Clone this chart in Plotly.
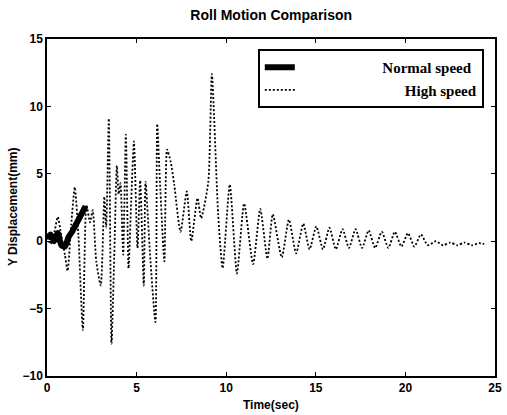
import plotly.graph_objects as go

# ---- data ----
normal_t = [0.0, 0.2, 0.4, 0.6, 0.8, 1.0, 1.2, 1.4, 1.6, 1.8, 2.0, 2.15]
normal_y = [0.2, 0.5, 0.0, 0.6, -0.3, -0.4, 0.3, 0.7, 1.2, 1.7, 2.2, 2.6]

high_t = [0.00, 0.20, 0.40, 0.60, 0.80, 1.00, 1.15, 1.35, 1.55, 1.75, 2.00, 2.20,
          2.40, 2.55, 2.75, 3.00, 3.20, 3.30, 3.45, 3.60, 3.75, 3.90, 4.00, 4.10,
          4.25, 4.40, 4.55, 4.70, 4.85, 5.05, 5.20, 5.40, 5.50, 5.75, 6.05, 6.15,
          6.30, 6.55, 6.70, 6.90, 7.10, 7.45, 7.80, 8.05, 8.40, 8.60, 9.00, 9.20,
          9.55, 9.80, 10.20, 10.60, 11.00, 11.50, 11.90, 12.30, 12.60, 13.10, 13.50, 13.90,
          14.30, 14.65, 15.03, 15.40, 15.76, 16.12, 16.49, 16.85, 17.22, 17.58, 17.95, 18.31,
          18.68, 19.05, 19.41, 19.78, 20.14, 20.50, 20.87, 21.25, 21.70, 22.10, 22.50, 22.90,
          23.30, 23.70, 24.10, 24.40]
high_y = [0.3, -0.2, 0.6, 1.8, 0.4, -1.0, -2.2, 1.2, 4.0, 0.5, -6.6, 2.7,
          1.4, 2.3, -1.5, -3.3, 3.3, 1.0, 9.1, -7.6, -1.2, 5.6, 3.5, 4.3,
          -1.0, 7.9, -2.0, 3.0, 7.4, -0.5, 4.5, -3.3, 4.4, -1.0, -6.0, 8.7,
          4.5, -1.5, 6.8, 5.9, 4.2, 0.7, 3.7, 0.0, 3.2, 1.7, 4.4, 12.4,
          2.0, -2.0, 4.2, -2.4, 2.8, -1.7, 2.4, -1.3, 2.0, -1.2, 1.6, -0.9,
          1.3, -0.6, 1.1, -0.6, 1.0, -0.6, 0.9, -0.5, 0.9, -0.5, 0.8, -0.5,
          0.7, -0.5, 0.7, -0.4, 0.6, -0.4, 0.5, -0.3, 0.0, -0.3, -0.1, -0.3,
          -0.1, -0.3, -0.15, -0.2]

x_ticks = [0, 5, 10, 15, 20, 25]
y_ticks = [-10, -5, 0, 5, 10, 15]

fig = go.Figure()
fig.add_trace(go.Scatter(
    x=high_t, y=high_y, mode="lines", name="\u00a0" * 28 + "High speed",
    line=dict(color="black", width=1.8, dash="2px,2px", shape="spline", smoothing=0.6),
))
fig.add_trace(go.Scatter(
    x=normal_t, y=normal_y, mode="lines", name="\u00a0" * 22 + "Normal speed",
    line=dict(color="black", width=6, shape="spline", smoothing=0.6),
))

axis_common = dict(
    showline=True, linecolor="black", linewidth=1.5, mirror="ticks",
    ticks="inside", ticklen=4, tickcolor="black", showgrid=False, zeroline=False,
    tickfont=dict(family="Liberation Sans", size=12, color="black", weight="bold"),
)

fig.update_layout(
    width=507, height=415,
    margin=dict(l=47, r=5, t=39, b=39),
    paper_bgcolor="white", plot_bgcolor="white",
    showlegend=True,
    legend=dict(
        x=0.975, y=0.97, xanchor="right", yanchor="top",
        bgcolor="white", bordercolor="black", borderwidth=2,
        font=dict(family="Liberation Serif", size=15, color="black", weight="bold"),
        traceorder="reversed",
    ),
    title=dict(
        text="Roll Motion Comparison", x=0.535, xanchor="center",
        y=1 - 15 / 415, yanchor="middle", yref="container",
        font=dict(family="Liberation Sans", size=14, color="black", weight="bold"),
    ),
    xaxis=dict(range=[0, 25], tickvals=x_ticks, **axis_common),
    yaxis=dict(range=[-10, 15], tickvals=y_ticks, **axis_common),
    annotations=[
        dict(text="Time(sec)", xref="paper", yref="paper", x=0.5, y=-0.086,
             showarrow=False, xanchor="center", yanchor="middle",
             font=dict(family="Liberation Sans", size=12, color="black", weight="bold")),
        dict(text="Y Displacement(mm)", xref="paper", yref="paper", x=-0.077, y=0.5,
             showarrow=False, textangle=-90, xanchor="center", yanchor="middle",
             font=dict(family="Liberation Sans", size=12, color="black", weight="bold")),
    ],
)

fig.write_html(
    "out.html",
    config={"displayModeBar": False},
    post_script="document.body.style.margin='0';document.body.style.overflow='hidden';",
)
